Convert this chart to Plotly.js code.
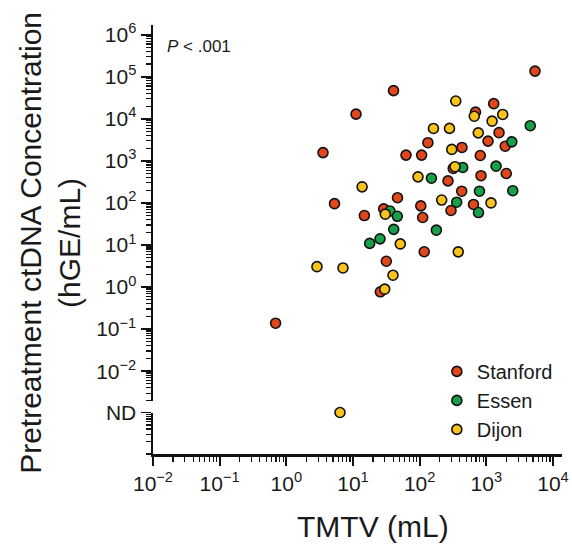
<!DOCTYPE html>
<html>
<head>
<meta charset="utf-8">
<script src="https://cdn.plot.ly/plotly-3.0.1.min.js"></script>
<style>html,body{margin:0;padding:0;background:#fff;} .c{width:572px;height:550px;}</style>
</head>
<body>
<div id="chart" class="c"></div>
<script>
// TMTV (mL) and pretreatment ctDNA (hGE/mL)
var stanfordX = [5370, 40.5, 11.1, 1290, 688, 1550, 1060, 1920, 3.55, 133, 62.4, 107, 431, 811, 319, 266, 832, 1990, 427, 5.28, 46.5, 295, 642, 14.8, 28.9, 104, 111, 117, 31.6, 25.7, 0.69];
var stanfordY = [136000, 46700, 12900, 22900, 14400, 4680, 2940, 2230, 1570, 2700, 1370, 1370, 2080, 1340, 660, 334, 444, 501, 190, 96, 133, 66, 92, 50, 72, 85, 45, 6.9, 4.1, 0.77, 0.138];
var essenX = [4560, 2410, 442, 150, 1400, 789, 2490, 359, 763, 35.9, 46.2, 40.8, 178, 17.8, 25.4];
var essenY = [6860, 2830, 696, 387, 748, 190, 195, 104, 59, 64, 48, 23.5, 22.5, 10.9, 14.0];
var dijonX = [348, 659, 1760, 1220, 161, 280, 757, 303, 339, 94.4, 13.7, 214, 1175, 30.5, 51.2, 379, 2.88, 7.08, 39.8, 29.9];
var dijonY = [26500, 11500, 12700, 8780, 5890, 5910, 4630, 1870, 727, 416, 241, 117, 100, 54, 10.6, 6.86, 3.05, 2.84, 1.91, 0.89];
// not detected (ND) samples
var dijonNDX = [6.38];
var ndLevel = [10];

var seriesNames = ['Stanford', 'Essen', 'Dijon'];
var seriesColors = ['#E2471C', '#17A04A', '#FAC31B'];

var xTickVals = [0.01, 0.1, 1, 10, 100, 1000, 10000];
var xTickText = ['10<sup>−2</sup>', '10<sup>−1</sup>', '10<sup>0</sup>', '10<sup>1</sup>', '10<sup>2</sup>', '10<sup>3</sup>', '10<sup>4</sup>'];
var yTickVals = [0.01, 0.1, 1, 10, 100, 1000, 10000, 100000, 1000000];
var yTickText = ['10<sup>−2</sup>', '10<sup>−1</sup>', '10<sup>0</sup>', '10<sup>1</sup>', '10<sup>2</sup>', '10<sup>3</sup>', '10<sup>4</sup>', '10<sup>5</sup>', '10<sup>6</sup>'];
var ndTickVals = [10];
var ndTickText = ['ND'];

var FONT = 'Liberation Sans, Arial, sans-serif';

function ax(extra) {
  var a = {type: 'log', showline: true, linewidth: 2.5, linecolor: '#111', showgrid: false, zeroline: false,
    ticks: 'outside', ticklen: 10, tickwidth: 1.8, tickcolor: '#111', tickfont: {size: 21},
    minor: {ticks: 'outside', ticklen: 5, tickwidth: 1.2, tickcolor: '#111', dtick: 'D1'}};
  for (var k in extra) a[k] = extra[k];
  return a;
}

function mk(x, y, i, yaxis, showlegend) {
  var t = {type: 'scatter', mode: 'markers', x: x, y: y, cliponaxis: false, name: seriesNames[i],
    showlegend: showlegend,
    marker: {color: seriesColors[i], size: 10, line: {color: '#111', width: 1.6}}};
  if (yaxis) t.yaxis = yaxis;
  return t;
}

var data = [
  mk(stanfordX, stanfordY, 0, null, true),
  mk(essenX, essenY, 1, null, true),
  mk(dijonX, dijonY, 2, null, true),
  mk(dijonNDX, ndLevel, 2, 'y2', false)
];

var layout = {
  width: 572, height: 550,
  margin: {l: 153, r: 10, t: 25, b: 96},
  paper_bgcolor: '#fff', plot_bgcolor: '#fff', showlegend: true,
  font: {family: FONT, color: '#1a1a1a'},
  legend: {x: 0.694, y: 0.238, xanchor: 'left', yanchor: 'top', bgcolor: 'rgba(0,0,0,0)',
    font: {size: 20}},
  xaxis: ax({range: [-2, 4.135], anchor: 'y2', tickmode: 'array', tickvals: xTickVals, ticktext: xTickText, ticklen: 9}),
  yaxis: ax({range: [-2.703, 6.23], domain: [0.1242, 1], anchor: 'x', tickmode: 'array', tickvals: yTickVals, ticktext: yTickText}),
  yaxis2: ax({range: [0, 1], domain: [0, 0.0967], anchor: 'x', tickmode: 'array', tickvals: ndTickVals, ticktext: ndTickText}),
  annotations: [
    {text: 'Pretreatment ctDNA Concentration<br>(hGE/mL)', textangle: -90,
     xref: 'paper', yref: 'paper', x: -0.252, y: 0.492, xanchor: 'center', yanchor: 'middle',
     showarrow: false, font: {size: 30}},
    {text: 'TMTV (mL)', xref: 'paper', yref: 'paper', x: 0.539, y: -0.170,
     xanchor: 'center', yanchor: 'middle', showarrow: false, font: {size: 30}},
    {text: '<i>P</i> < .001', xref: 'paper', yref: 'paper', x: 0.029, y: 0.951,
     xanchor: 'left', yanchor: 'middle', showarrow: false, font: {size: 17}}
  ]
};

Plotly.newPlot('chart', data, layout, {displayModeBar: false, staticPlot: true});
</script>
</body>
</html>
